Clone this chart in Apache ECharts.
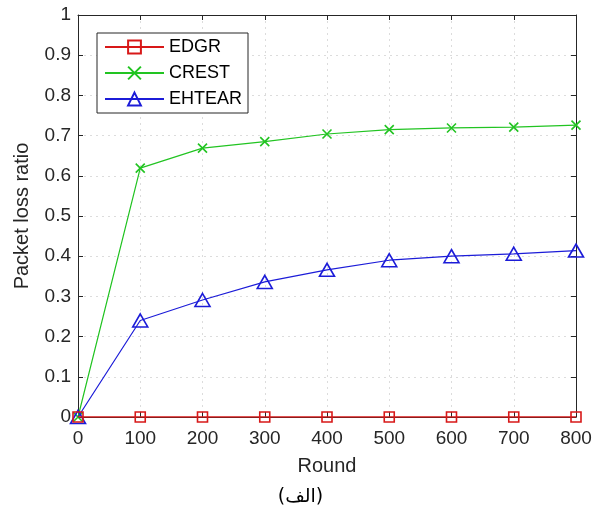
<!DOCTYPE html>
<html><head><meta charset="utf-8">
<script src="https://cdn.jsdelivr.net/npm/echarts@6/dist/echarts.min.js"></script>
<style>html,body{margin:0;padding:0;background:#fff}#c{width:601px;height:514px}</style>
</head><body><div id="c"></div>
<script>
var rounds = [0, 100, 200, 300, 400, 500, 600, 700, 800];
var edgr = [0, 0, 0, 0, 0, 0, 0, 0, 0];
var crest = [0, 0.619, 0.669, 0.685, 0.704, 0.715, 0.719, 0.721, 0.726];
var ehtear = [0, 0.24, 0.291, 0.336, 0.366, 0.39, 0.40, 0.406, 0.414];
var yTicks = [0, 0.1, 0.2, 0.3, 0.4, 0.5, 0.6, 0.7, 0.8, 0.9, 1];
var xLabel = 'Round', yLabel = 'Packet loss ratio', caption = '(الف)';

function pairs(v){ return rounds.map(function(r,i){ return [r, v[i]]; }); }
var font = 'Liberation Sans, Arial, sans-serif';
var axisCol = '#262626';
var gridLine = {show:true, lineStyle:{color:'#dcdcdc', type:[2,4], width:1}};
var chart = echarts.init(document.getElementById('c'));
var xBase = {type:'value', min:0, max:800, interval:100,
  axisLine:{show:true, onZero:false, lineStyle:{color:axisCol, width:1}},
  axisTick:{show:true, inside:true, length:5, lineStyle:{color:axisCol}},
  splitLine:{show:false}};
var yBase = {type:'value', min:0, max:1, interval:0.1,
  axisLine:{show:true, onZero:false, lineStyle:{color:axisCol, width:1}},
  axisTick:{show:true, inside:true, length:5, lineStyle:{color:axisCol}},
  splitLine:{show:false}};
chart.setOption({
  animation:false,
  backgroundColor:'#fff',
  grid:{left:78, right:25, top:15, bottom:97, containLabel:false},
  legend:{
    left:97, top:33, orient:'vertical', itemGap:8,
    itemWidth:59, itemHeight:16,
    padding:[5,6,5,7],
    borderColor:axisCol, borderWidth:1, backgroundColor:'#fff',
    textStyle:{fontFamily:font, fontSize:18, color:'#000', padding:[0,0,0,0]},
    data:['EDGR','CREST','EHTEAR']
  },
  xAxis:[
    Object.assign({}, xBase, {position:'bottom',
      name:xLabel, nameLocation:'middle', nameGap:39,
      nameTextStyle:{fontFamily:font, fontSize:20, color:axisCol},
      axisLabel:{fontFamily:font, fontSize:19, color:axisCol, margin:12},
      splitLine:gridLine}),
    Object.assign({}, xBase, {position:'top', axisLabel:{show:false}})
  ],
  yAxis:[
    Object.assign({}, yBase, {position:'left',
      name:yLabel, nameLocation:'middle', nameGap:46,
      nameTextStyle:{fontFamily:font, fontSize:20, color:axisCol},
      axisLabel:{fontFamily:font, fontSize:19, color:axisCol, margin:7,
        formatter:function(v){ var i = yTicks.indexOf(Math.round(v*10)/10); return i>=0 ? String(yTicks[i]) : ''; }},
      splitLine:gridLine}),
    Object.assign({}, yBase, {position:'right', axisLabel:{show:false}})
  ],
  series:[
    {name:'CREST', type:'line', data:pairs(crest), symbol:'path://M0,0L10,10M10,0L0,10', symbolSize:9,
      lineStyle:{color:'#22c422', width:1.2}, itemStyle:{color:'rgba(0,0,0,0)', borderColor:'#22c422', borderWidth:1.6}, z:3},
    {name:'EHTEAR', type:'line', data:pairs(ehtear), symbol:'triangle', symbolSize:[15,13],
      lineStyle:{color:'#1c1cd8', width:1.2}, itemStyle:{color:'rgba(0,0,0,0)', borderColor:'#1c1cd8', borderWidth:1.6}, z:4},
    {name:'EDGR', type:'line', data:pairs(edgr), symbol:'rect', symbolSize:10,
      lineStyle:{color:'#d81818', width:1.4}, itemStyle:{color:'rgba(0,0,0,0)', borderColor:'#d81818', borderWidth:1.6}, z:5}
  ],
  graphic:[{type:'text', left:'center', top:488,
    style:{text:caption, fontFamily:'DejaVu Sans, Noto Sans, sans-serif', fontSize:19, fill:'#000'}}]
});
</script></body></html>
